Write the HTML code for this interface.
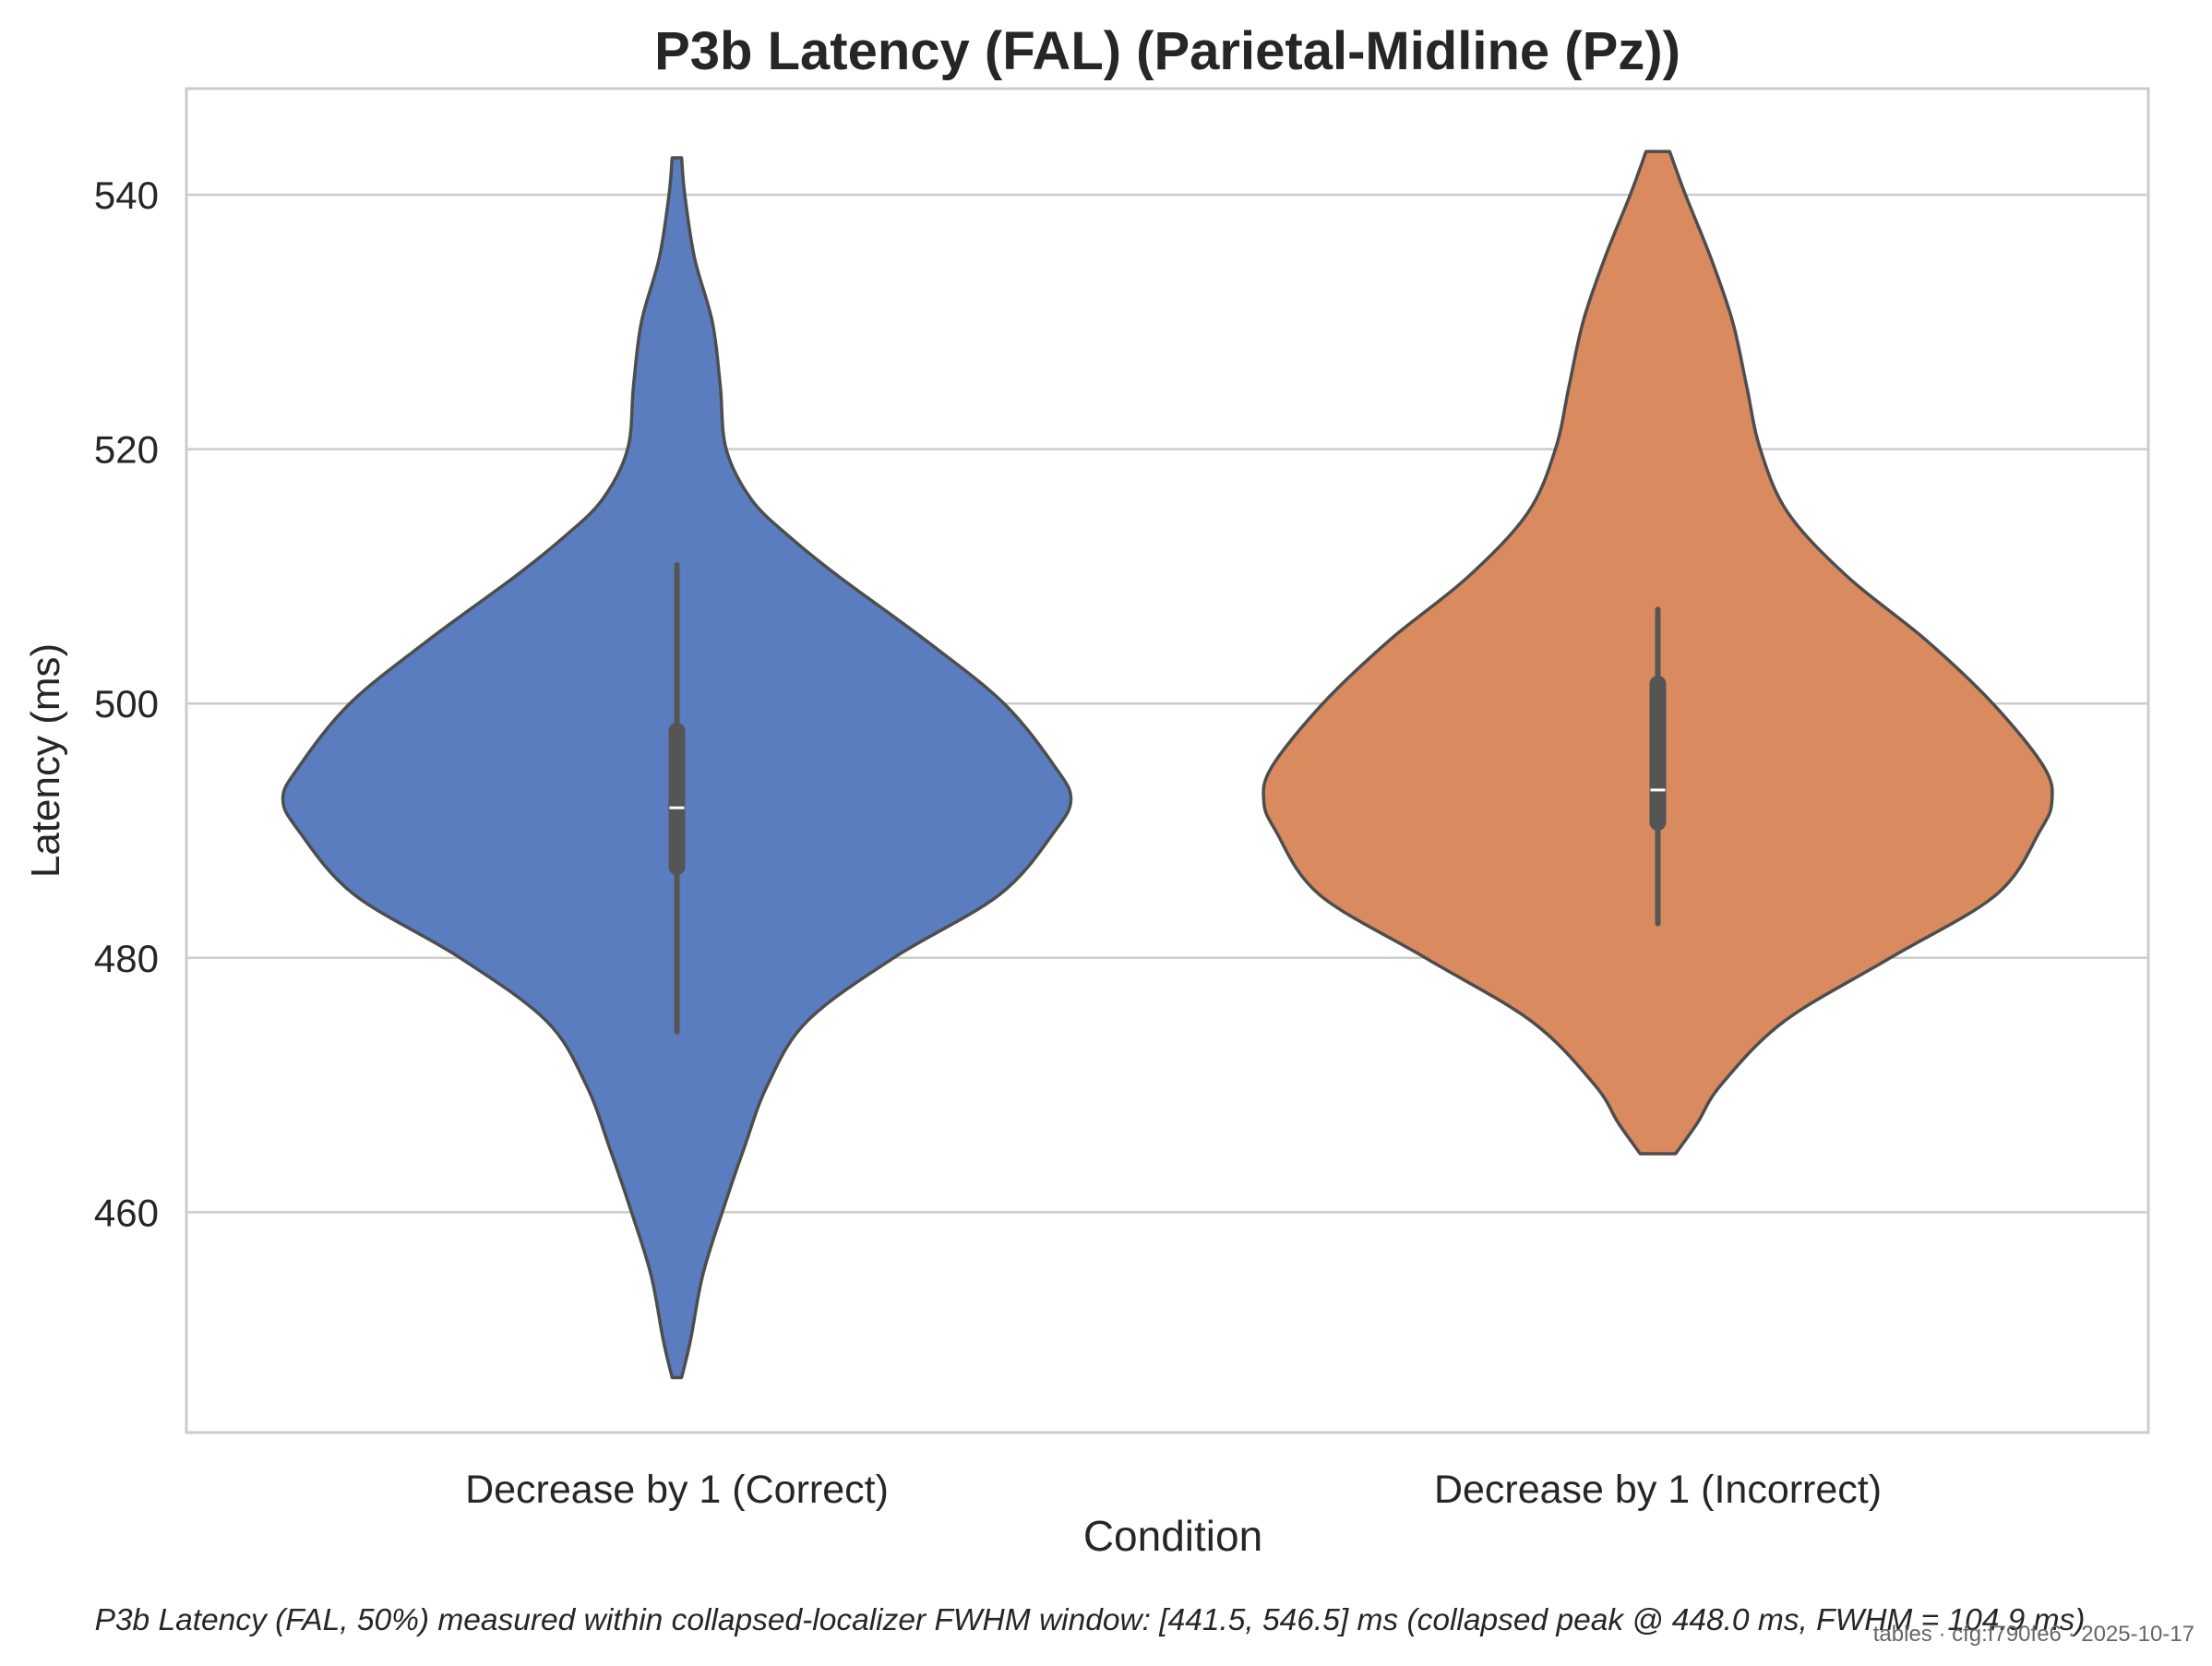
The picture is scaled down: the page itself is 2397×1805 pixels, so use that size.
<!DOCTYPE html>
<html><head><meta charset="utf-8"><style>
body{margin:0;background:#fff;}
svg{display:block;font-family:"Liberation Sans",Arial,sans-serif;}
</style></head><body>
<svg id="chart" width="2397" height="1805" viewBox="0 0 2397 1805" xmlns="http://www.w3.org/2000/svg">
<rect width="2397" height="1805" fill="#fff"/>
<text x="1265" y="75" text-anchor="middle" font-size="58" font-weight="bold" fill="#262626">P3b Latency (FAL) (Parietal-Midline (Pz))</text>
<g id="grid"></g>
<g id="violins"></g>
<rect x="202" y="96" width="2126" height="1456" fill="none" stroke="#cccccc" stroke-width="3"/>
<g id="ticks"></g>
<text x="1271" y="1680" text-anchor="middle" font-size="46" fill="#262626">Condition</text>
<text transform="translate(64,824) rotate(-90)" text-anchor="middle" font-size="44" fill="#262626">Latency (ms)</text>
<text x="1181" y="1766" text-anchor="middle" font-size="33.5" font-style="italic" fill="#262626">P3b Latency (FAL, 50%) measured within collapsed-localizer FWHM window: [441.5, 546.5] ms (collapsed peak @ 448.0 ms, FWHM = 104.9 ms)</text>
<text x="2378" y="1778" text-anchor="end" font-size="24" fill="#666">tables · cfg:f790fe6 · 2025-10-17</text>
</svg>
<script>
const categories = ["Decrease by 1 (Correct)", "Decrease by 1 (Incorrect)"];
const yTicks = [460, 480, 500, 520, 540];
const colors = ["#5a7dbf", "#d98a5f"];
// violin profiles: latency values and relative half-widths
const blueY = [542.9, 540, 535, 530, 525, 520, 516, 513, 510, 505, 500, 495, 492.5, 490, 485, 480, 475, 470, 465, 460, 455, 450, 447];
const blueW = [0.012, 0.02, 0.045, 0.09, 0.11, 0.125, 0.19, 0.29, 0.41, 0.63, 0.83, 0.96, 1.0, 0.96, 0.82, 0.55, 0.33, 0.23, 0.17, 0.115, 0.065, 0.035, 0.012];
const orangeY = [543.4, 540, 535, 530, 525, 520, 515, 510, 505, 500, 495, 492.3, 490, 485, 480, 475, 470, 467, 464.6];
const orangeW = [0.03, 0.07, 0.135, 0.19, 0.225, 0.26, 0.33, 0.48, 0.68, 0.85, 0.98, 1.0, 0.97, 0.86, 0.59, 0.32, 0.16, 0.1, 0.045];
const whiskerLow = [474.2, 482.7];
const whiskerHigh = [510.9, 507.4];
const q1 = [486.5, 490.0];
const q3 = [498.5, 502.2];
const medians = [491.8, 493.2];

const NS = "http://www.w3.org/2000/svg";
const L = 202, R = 2328;
function yS(v){ return 211 + (540 - v) * 13.78; }
function xS(i){ return L + (R - L) / categories.length * (i + 0.5); }
const halfMax = 427;
function mk(tag, attrs, parent){ const e = document.createElementNS(NS, tag); for (const k in attrs) e.setAttribute(k, attrs[k]); parent.appendChild(e); return e; }

const grid = document.getElementById('grid'), ticks = document.getElementById('ticks'), vg = document.getElementById('violins');
yTicks.forEach(t => {
  const ln = mk('line', {x1: L, x2: R, y1: yS(t), y2: yS(t), stroke: '#cccccc', 'stroke-width': 2.5}, grid);
  
  
  const tx = mk('text', {x: 172, y: yS(t) + 15, 'text-anchor': 'end', 'font-size': 42, fill: '#262626'}, ticks);
  tx.textContent = t;
  
  
});
categories.forEach((c, i) => {
  const tx = mk('text', {x: xS(i), y: 1628, 'text-anchor': 'middle', 'font-size': 43, fill: '#262626'}, ticks);
  tx.textContent = c;
  
  
});

function smooth(pts){
  let d = 'M' + pts[0][0] + ',' + pts[0][1];
  for (let i = 0; i < pts.length - 1; i++){
    const p0 = pts[Math.max(0, i-1)], p1 = pts[i], p2 = pts[i+1], p3 = pts[Math.min(pts.length-1, i+2)];
    const c1 = [p1[0] + (p2[0]-p0[0])/6, p1[1] + (p2[1]-p0[1])/6];
    const c2 = [p2[0] - (p3[0]-p1[0])/6, p2[1] - (p3[1]-p1[1])/6];
    d += ' C' + c1[0].toFixed(1) + ',' + c1[1].toFixed(1) + ' ' + c2[0].toFixed(1) + ',' + c2[1].toFixed(1) + ' ' + p2[0].toFixed(1) + ',' + p2[1].toFixed(1);
  }
  return d;
}
const profiles = [[blueY, blueW], [orangeY, orangeW]];
profiles.forEach((p, i) => {
  const cx = xS(i);
  const right = p[0].map((v, k) => [cx + p[1][k] * halfMax, yS(v)]);
  const left = p[0].map((v, k) => [cx - p[1][k] * halfMax, yS(v)]).reverse();
  let d = smooth(right);
  d += ' L' + left[0][0].toFixed(1) + ',' + left[0][1].toFixed(1) + smooth(left).replace(/^M[^C]*/, ' ') + ' Z';
  const path = mk('path', {d: d, fill: colors[i], stroke: '#4d4d4d', 'stroke-width': 3.5, 'stroke-linejoin': 'round'}, vg);
  
  
  const w = mk('line', {x1: cx, x2: cx, y1: yS(whiskerHigh[i]), y2: yS(whiskerLow[i]), stroke: '#555', 'stroke-width': 6, 'stroke-linecap': 'round'}, vg);
  
  
  const b = mk('line', {x1: cx, x2: cx, y1: yS(q3[i]) + 9, y2: yS(q1[i]) - 9, stroke: '#555', 'stroke-width': 18, 'stroke-linecap': 'round'}, vg);
  
  
  const m = mk('line', {x1: cx - 8, x2: cx + 8, y1: yS(medians[i]), y2: yS(medians[i]), stroke: '#fff', 'stroke-width': 3}, vg);
  
  
});
</script>
</body></html>
